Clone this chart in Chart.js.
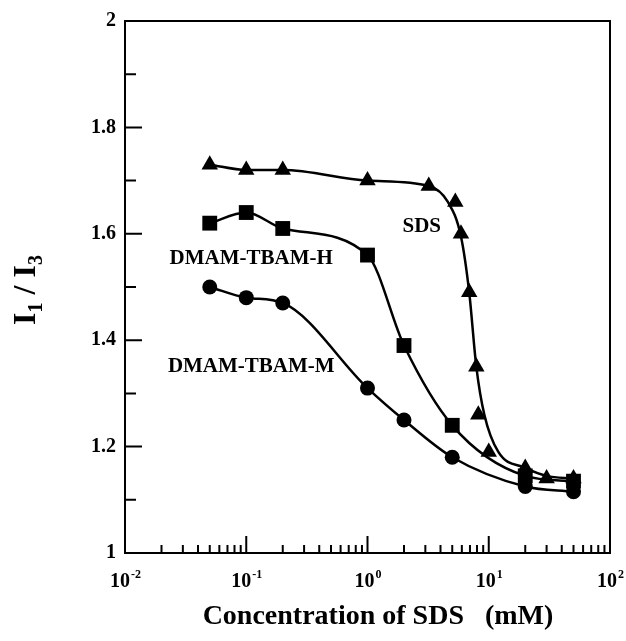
<!DOCTYPE html>
<html>
<head>
<meta charset="utf-8">
<script src="https://cdn.jsdelivr.net/npm/chart.js@4"></script>
<style>
    html, body { margin: 0; padding: 0; background: #fff; }
</style>
</head>
<body>
<canvas id="chart" width="626" height="641"></canvas>
<script>
// SDS concentration (mM) and I1/I3 values
const sdsX = [0.05, 0.1, 0.2, 1, 3.2, 5.3, 5.9, 6.9, 7.9, 8.2, 10, 20, 30, 50];
const sdsY = [1.73, 1.72, 1.72, 1.70, 1.69, 1.66, 1.60, 1.49, 1.35, 1.26, 1.19, 1.16, 1.14, 1.14];

// the drawn SDS curve is a fit, it does not go through every triangle
const sdsCurveX = [0.05, 0.1, 0.2, 1, 3.2, 4.6, 5.9, 6.9, 7.9, 9.2, 12, 20, 30, 50];
const sdsCurveY = [1.73, 1.72, 1.72, 1.70, 1.69, 1.66, 1.595, 1.49, 1.35, 1.26, 1.19, 1.16, 1.145, 1.14];

const hX = [0.05, 0.1, 0.2, 1, 2, 5, 20, 50];
const hY = [1.62, 1.64, 1.61, 1.56, 1.39, 1.24, 1.145, 1.135];

const mX = [0.05, 0.1, 0.2, 1, 2, 5, 20, 50];
const mY = [1.50, 1.48, 1.47, 1.31, 1.25, 1.18, 1.125, 1.115];

// axes
const yMajorTicks = [1, 1.2, 1.4, 1.6, 1.8, 2];
const yTickLabels = ['1', '1.2', '1.4', '1.6', '1.8', '2'];
const yMinorTicks = [1.1, 1.3, 1.5, 1.7, 1.9];
const xDecades = [0.01, 0.1, 1, 10, 100];
const xDecadeExp = ['-2', '-1', '0', '1', '2'];

// curve labels: [text, x, y]
const curveLabels = [
    ['SDS', 2.8, 1.613],
    ['DMAM-TBAM-H', 0.11, 1.554],
    ['DMAM-TBAM-M', 0.11, 1.35]
];

const FONT = '"Liberation Serif", "Times New Roman", serif';
const toPts = (xs, ys) => xs.map((x, i) => ({ x, y: ys[i] }));

function curve(xs, ys) {
    return {
        data: toPts(xs, ys),
        showLine: true,
        borderColor: '#000',
        borderWidth: 2.5,
        pointRadius: 0,
        cubicInterpolationMode: 'monotone'
    };
}

function markers(xs, ys, style, radius) {
    return {
        data: toPts(xs, ys),
        showLine: false,
        pointStyle: style,
        pointRadius: radius,
        pointBackgroundColor: '#000',
        pointBorderColor: '#000',
        pointBorderWidth: 0
    };
}

const frameAndText = {
    id: 'frameAndText',
    afterDraw(chart) {
        const ctx = chart.ctx;
        const xs = chart.scales.x, ys = chart.scales.y;
        const a = chart.chartArea;
        ctx.save();
        ctx.strokeStyle = '#000';
        ctx.fillStyle = '#000';

        // frame
        ctx.lineWidth = 2;
        ctx.strokeRect(a.left, a.top, a.right - a.left, a.bottom - a.top);

        // y ticks, inward
        ctx.beginPath();
        yMajorTicks.forEach(v => {
            const py = ys.getPixelForValue(v);
            ctx.moveTo(a.left, py); ctx.lineTo(a.left + 17, py);
        });
        yMinorTicks.forEach(v => {
            const py = ys.getPixelForValue(v);
            ctx.moveTo(a.left, py); ctx.lineTo(a.left + 11, py);
        });
        // x ticks, inward
        xDecades.forEach((d, i) => {
            const px = xs.getPixelForValue(d);
            ctx.moveTo(px, a.bottom); ctx.lineTo(px, a.bottom - 17);
            if (i < xDecades.length - 1) {
                for (let m = 2; m <= 9; m++) {
                    const pm = xs.getPixelForValue(d * m);
                    ctx.moveTo(pm, a.bottom); ctx.lineTo(pm, a.bottom - 8);
                }
            }
        });
        ctx.stroke();

        // y tick labels
        ctx.font = 'bold 20px ' + FONT;
        ctx.textAlign = 'right';
        ctx.textBaseline = 'middle';
        yMajorTicks.forEach((v, i) => {
            ctx.fillText(yTickLabels[i], a.left - 9, ys.getPixelForValue(v));
        });

        // x tick labels 10^n
        ctx.textAlign = 'left';
        ctx.textBaseline = 'alphabetic';
        xDecades.forEach((d, i) => {
            const px = xs.getPixelForValue(d);
            ctx.font = 'bold 20px ' + FONT;
            const wb = ctx.measureText('10').width;
            ctx.font = 'bold 12px ' + FONT;
            const we = ctx.measureText(xDecadeExp[i]).width;
            const x0 = px - (wb + we) / 2;
            ctx.font = 'bold 20px ' + FONT;
            ctx.fillText('10', x0, 587);
            ctx.font = 'bold 12px ' + FONT;
            ctx.fillText(xDecadeExp[i], x0 + wb + 1, 578);
        });

        // x title
        ctx.font = 'bold 28px ' + FONT;
        ctx.textAlign = 'center';
        ctx.fillText('Concentration of SDS   (mM)', 378, 624);

        // y title I1 / I3, rotated
        ctx.save();
        ctx.translate(35, 290);
        ctx.rotate(-Math.PI / 2);
        const parts = [
            ['I', 32, 0], ['1', 20, 7], [' / ', 32, 0], ['I', 32, 0], ['3', 20, 7]
        ];
        let total = 0;
        parts.forEach(p => { ctx.font = 'bold ' + p[1] + 'px ' + FONT; total += ctx.measureText(p[0]).width; });
        let cx = -total / 2;
        ctx.textAlign = 'left';
        parts.forEach(p => {
            ctx.font = 'bold ' + p[1] + 'px ' + FONT;
            ctx.fillText(p[0], cx, p[2]);
            cx += ctx.measureText(p[0]).width;
        });
        ctx.restore();

        // curve labels
        ctx.font = 'bold 21px ' + FONT;
        ctx.textAlign = 'center';
        ctx.textBaseline = 'middle';
        curveLabels.forEach(([t, x, y]) => {
            ctx.fillText(t, xs.getPixelForValue(x), ys.getPixelForValue(y));
        });

        ctx.restore();
    }
};

new Chart(document.getElementById('chart').getContext('2d'), {
    type: 'scatter',
    data: {
        datasets: [
            curve(sdsCurveX, sdsCurveY),
            curve(hX, hY),
            curve(mX, mY),
            markers(sdsX, sdsY, 'triangle', 9.5),
            markers(hX, hY, 'rect', 10.5),
            markers(mX, mY, 'circle', 7.5)
        ]
    },
    options: {
        responsive: false,
        animation: false,
        devicePixelRatio: 1,
        layout: { padding: { left: 125, right: 16, top: 21, bottom: 88 } },
        plugins: { legend: { display: false }, tooltip: { enabled: false } },
        scales: {
            x: { type: 'logarithmic', min: 0.01, max: 100, display: false },
            y: { type: 'linear', min: 1, max: 2, display: false }
        }
    },
    plugins: [frameAndText]
});
</script>
</body>
</html>
